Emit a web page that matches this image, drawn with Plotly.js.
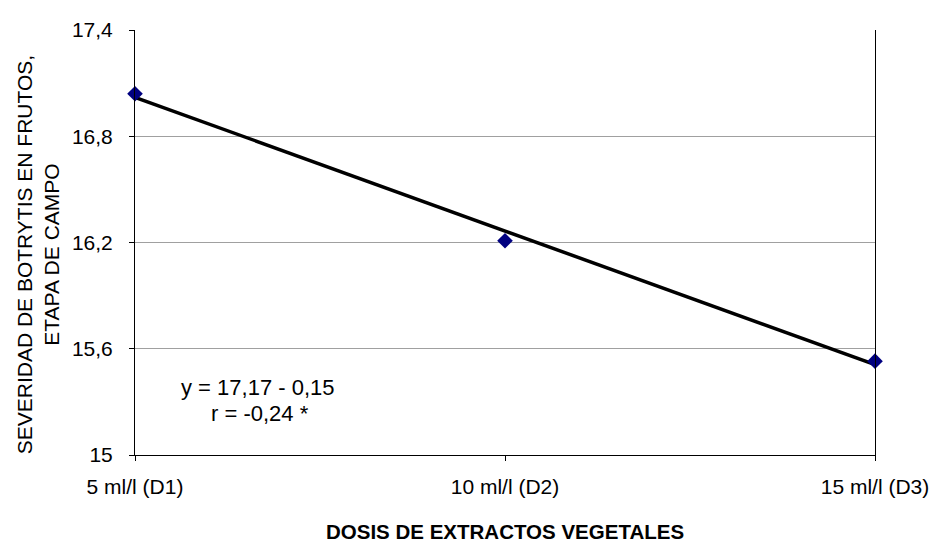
<!DOCTYPE html>
<html>
<head>
<meta charset="utf-8">
<script src="https://cdn.plot.ly/plotly-3.0.1.min.js"></script>
<style>html,body{margin:0;padding:0;background:#fff;}#chart{width:939px;height:546px;}</style>
</head>
<body>
<div id="chart"></div>
<script>
// Data
const doseLabels = ["5 ml/l (D1)", "10 ml/l (D2)", "15 ml/l (D3)"];
const dosePos = [0, 1, 2];
const severity = [17.04, 16.21, 15.53];
const trendX = [0, 2];
const trendY = [17.02, 15.51];
const yTickVals = [15, 15.6, 16.2, 16.8, 17.4];
const yTickText = ["15", "15,6", "16,2", "16,8", "17,4"];
const equationLines = ["y = 17,17 - 0,15", "r = -0,24 *"];
const yTitleText = "SEVERIDAD DE BOTRYTIS EN FRUTOS,<br>ETAPA DE CAMPO";
const xTitleText = "<b>DOSIS DE EXTRACTOS VEGETALES</b>";

const font = "Arial, 'Liberation Sans', sans-serif";

const traces = [
  {
    x: trendX, y: trendY, mode: "lines", type: "scatter",
    line: {color: "#000000", width: 3.5}, hoverinfo: "skip", showlegend: false
  },
  {
    x: dosePos, y: severity, mode: "markers", type: "scatter",
    marker: {symbol: "diamond", size: 12, color: "#000080"},
    showlegend: false, cliponaxis: false
  }
];

const layout = {
  width: 939, height: 546,
  margin: {l: 135, r: 64, t: 30, b: 91},
  paper_bgcolor: "#ffffff", plot_bgcolor: "#ffffff",
  font: {family: font, color: "#000000"},
  showlegend: false,
  xaxis: {
    range: [0, 2], tickvals: dosePos, ticktext: doseLabels,
    showgrid: false, zeroline: false,
    showline: true, linecolor: "#000000", linewidth: 1,
    ticks: "outside", ticklen: 5, tickcolor: "#000000",
    tickfont: {size: 21, family: font},
    ticklabelstandoff: 8
  },
  yaxis: {
    range: [15, 17.4], tickvals: yTickVals, ticktext: yTickText,
    showgrid: true, gridcolor: "#a0a0a0", gridwidth: 1, zeroline: false,
    showline: true, linecolor: "#000000", linewidth: 1, mirror: true,
    ticks: "outside", ticklen: 5, tickcolor: "#000000",
    tickfont: {size: 21, family: font},
    ticklabelstandoff: 12
  },
  annotations: [
    {
      xref: "paper", yref: "paper", x: -0.131, y: 0.47,
      xanchor: "center", yanchor: "middle", textangle: -90,
      text: yTitleText, showarrow: false,
      font: {size: 21, family: font, color: "#000000"}, align: "center"
    },
    {
      xref: "paper", yref: "paper", x: 0.5, y: -0.181,
      xanchor: "center", yanchor: "middle", borderpad: 0,
      text: xTitleText, showarrow: false,
      font: {size: 20.5, family: font, color: "#000000"}
    },
    {
      xref: "paper", yref: "paper", x: 0.166, y: 0.16,
      xanchor: "center", yanchor: "middle",
      text: equationLines[0], showarrow: false,
      font: {size: 22, family: font, color: "#000000"}
    },
    {
      xref: "paper", yref: "paper", x: 0.169, y: 0.0988,
      xanchor: "center", yanchor: "middle",
      text: equationLines[1], showarrow: false,
      font: {size: 22, family: font, color: "#000000"}
    }
  ]
};

Plotly.newPlot("chart", traces, layout, {displayModeBar: false, staticPlot: true});
</script>
</body>
</html>
